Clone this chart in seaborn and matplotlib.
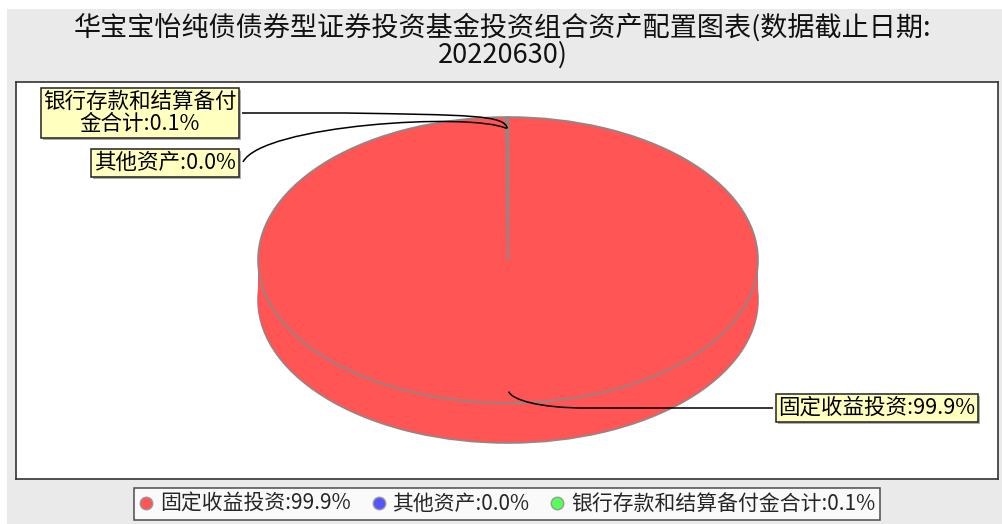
import numpy as np
import seaborn as sns
import matplotlib
matplotlib.use("Agg")
from matplotlib import pyplot as plt
from matplotlib.lines import Line2D
from matplotlib.patches import PathPatch, Rectangle
from matplotlib.path import Path

# data
categories = ['固定收益投资', '其他资产', '银行存款和结算备付金合计']
values = [99.9, 0.0, 0.1]
slice_colors = ['#FF5555', '#5555FF', '#55FF55']
title = '华宝宝怡纯债债券型证券投资基金投资组合资产配置图表(数据截止日期:\n20220630)'

sns.set_theme(style='white')
plt.rcParams['font.family'] = ['Noto Sans CJK SC', 'DejaVu Sans']

W, H = 1002, 524
CX, CY, RX, RY = 508, 260, 250, 143   # pie top face in pixels
DEPTH = 40


def px2data(x, y):
    return (x - CX) / RX, (CY - y) / RY


def data2px(x, y):
    return CX + x * RX, CY - y * RY


fig = plt.figure(figsize=(W / 100, H / 100), dpi=100, facecolor='white')
fig.patches.append(Rectangle((7 / W, 0), 1, 1 - 9 / H, transform=fig.transFigure,
                             facecolor='#EAEAEA', edgecolor='none', zorder=-10))

ax = fig.add_axes([15.5 / W, 1 - 479 / H, (998 - 15.5) / W, (479 - 82) / H])
ax.set_facecolor('white')

palette = sns.color_palette(slice_colors)
labels = [f'{c}:{v:.1f}%' for c, v in zip(categories, values)]

# side of the 3d pie: stack of flat pies going down
depth = DEPTH / RY
offsets = np.linspace(-depth, 0, DEPTH + 1)
ax.pie(values, colors=palette, startangle=90, counterclock=False, center=(0, -depth),
       frame=True, wedgeprops=dict(edgecolor='#8A8A8A', linewidth=1.2))
for off in offsets[1:-1]:
    ax.pie(values, colors=palette, startangle=90, counterclock=False, center=(0, off),
           frame=True, wedgeprops=dict(edgecolor='none', linewidth=0))
# top face
ax.pie(values, colors=palette, startangle=90, counterclock=False, center=(0, 0),
       frame=True, wedgeprops=dict(edgecolor='#8A8A8A', linewidth=1.2))

ax.set_aspect('auto')
x0, y0 = px2data(15.5, 479)
x1, y1 = px2data(998, 82)
ax.set_xlim(x0, x1)
ax.set_ylim(y0, y1)
ax.set_xticks([])
ax.set_yticks([])
for s in ax.spines.values():
    s.set_color('#333333')
    s.set_linewidth(1.2)

# anchors on the pie for each slice
total = sum(values)
cum = np.cumsum([0] + values[:-1])
mids = np.deg2rad(90 - 360 * (cum + np.array(values) / 2) / total)
anchors = [data2px(0.92 * np.cos(t), 0.92 * np.sin(t)) for t in mids]

# label layout: (box centre in px, leader path in px ending at anchor)
label_pos = {
    0: (877, 408),
    1: (165, 163),
    2: (140, 113),
}
leaders = {
    0: [(Path.MOVETO, anchors[0]), (Path.CURVE4, (512, 400)), (Path.CURVE4, (540, 408)),
        (Path.CURVE4, (585, 408)), (Path.LINETO, (773, 408))],
    1: [(Path.MOVETO, (243, 162)), (Path.CURVE4, (262, 125)), (Path.CURVE4, (470, 112)),
        (Path.CURVE4, anchors[1])],
    2: [(Path.MOVETO, (242, 113)), (Path.LINETO, (345, 113)), (Path.CURVE4, (470, 115)),
        (Path.CURVE4, (505, 115)), (Path.CURVE4, anchors[2])],
}
box_text = {
    0: labels[0],
    1: labels[1],
    2: '银行存款和结算备付\n金合计:' + f'{values[2]:.1f}%',
}

for i in [0, 1, 2]:
    codes = [c for c, _ in leaders[i]]
    verts = [px2data(*p) for _, p in leaders[i]]
    ax.add_patch(PathPatch(Path(verts, codes), facecolor='none', edgecolor='black',
                           linewidth=1.1, zorder=5))
    bx, by = label_pos[i]
    # shadow
    fig.text((bx + 2) / W, 1 - (by + 2) / H, box_text[i], ha='center', va='center',
             fontsize=15.5, color='none', linespacing=1.05,
             bbox=dict(boxstyle='square,pad=0.12', facecolor='#B0B0B0', edgecolor='none'),
             zorder=6)
    fig.text(bx / W, 1 - by / H, box_text[i], ha='center', va='center',
             fontsize=15.5, color='black', linespacing=1.05,
             bbox=dict(boxstyle='square,pad=0.12', facecolor='#FFFFC0',
                       edgecolor='#222222', linewidth=1.1),
             zorder=7)

fig.text(503 / W, 1 - 41 / H, title, ha='center', va='center', fontsize=19.5,
         linespacing=1.0, color='#111111')

handles = [Line2D([], [], marker='o', ls='', markerfacecolor=c, markeredgecolor='#999999',
                  markersize=9) for c in palette]
leg = fig.legend(handles, labels, loc='center', bbox_to_anchor=(507 / W, 1 - 504 / H),
                 ncol=3, frameon=True, fancybox=False, fontsize=15, handlelength=0.7,
                 handletextpad=0.3, columnspacing=1.0, borderpad=0.25, borderaxespad=0)
leg.get_frame().set_edgecolor('#222222')
leg.get_frame().set_linewidth(1.1)
leg.get_frame().set_facecolor('white')

plt.savefig('out.png', dpi=100)
